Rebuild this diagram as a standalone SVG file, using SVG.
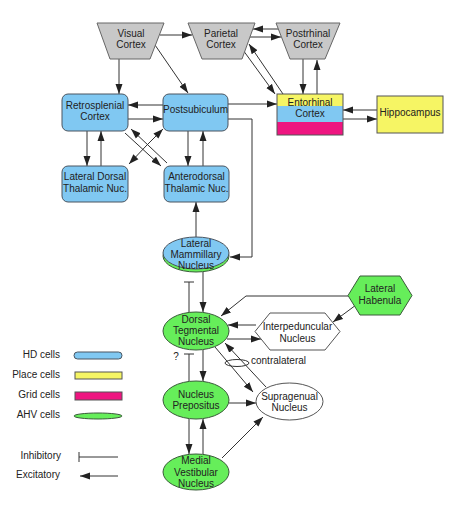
<svg xmlns="http://www.w3.org/2000/svg" width="463" height="511" viewBox="0 0 463 511">
<style>
text{font-family:"Liberation Sans",Arial,sans-serif;font-size:10px;fill:#222;text-anchor:middle}
.l{text-anchor:end}
.s{text-anchor:start}
.tr{fill:#c8c8c8;stroke:#666;stroke-width:1}
.hd{fill:#80c8f2;stroke:#4a5560;stroke-width:1}
.ahv{fill:#66ee5a;stroke:#3a5a3a;stroke-width:1}
.pl{fill:#f6f564;stroke:#555;stroke-width:1}
.gr{fill:#ee1580;stroke:#555;stroke-width:1}
.wh{fill:#fff;stroke:#555;stroke-width:1}
.c{fill:none;stroke:#333;stroke-width:1}
.a{marker-end:url(#ah)}
</style>
<defs>
<marker id="ah" markerUnits="userSpaceOnUse" markerWidth="11" markerHeight="8" refX="10" refY="4" orient="auto">
<path d="M0,0.5 L10,4 L0,7.5 z" fill="#222"/>
</marker>
</defs>

<g id="connectors">
<line class="c a" x1="160" y1="35" x2="192" y2="35"/>
<line class="c a" x1="278" y1="29" x2="253" y2="29"/>
<line class="c a" x1="250" y1="37" x2="281" y2="37"/>
<line class="c a" x1="119" y1="59" x2="119" y2="94"/>
<line class="c a" x1="155" y1="45" x2="188" y2="93"/>
<line class="c a" x1="243" y1="50" x2="275" y2="94"/>
<line class="c a" x1="283" y1="94" x2="249" y2="44"/>
<line class="c a" x1="303" y1="59" x2="303" y2="94"/>
<line class="c a" x1="317" y1="94" x2="317" y2="60"/>
<line class="c a" x1="377" y1="110" x2="343" y2="110"/>
<line class="c a" x1="343" y1="119" x2="377" y2="119"/>
<line class="c a" x1="228" y1="104" x2="277" y2="104"/>
<line class="c a" x1="163" y1="105" x2="128" y2="105"/>
<line class="c a" x1="128" y1="119" x2="163" y2="119"/>
<line class="c a" x1="87" y1="131" x2="87" y2="166"/>
<line class="c a" x1="101" y1="166" x2="101" y2="131"/>
<line class="c a" x1="188" y1="131" x2="188" y2="166"/>
<line class="c a" x1="203" y1="166" x2="203" y2="131"/>
<line class="c a" x1="146" y1="146" x2="129" y2="164"/>
<line class="c a" x1="146" y1="146" x2="163" y2="129"/>
<line class="c a" x1="125" y1="133" x2="161" y2="166"/>
<line class="c a" x1="167" y1="163" x2="131" y2="129"/>
<path class="c a" d="M228,119 H252 V257 H230"/>
<line class="c a" x1="196" y1="237" x2="196" y2="202"/>
<line class="c a" x1="203" y1="272" x2="203" y2="312"/>
<line class="c" x1="189" y1="313" x2="189" y2="282"/>
<line class="c" x1="184" y1="282" x2="194" y2="282"/>
<path class="c a" d="M348,296 H246 L221,316"/>
<line class="c a" x1="356" y1="305" x2="333" y2="322"/>
<line class="c a" x1="256" y1="325" x2="228" y2="325"/>
<line class="c a" x1="227" y1="339" x2="261" y2="339"/>
<line class="c a" x1="215" y1="347" x2="253" y2="392"/>
<line class="c a" x1="266" y1="387" x2="225" y2="343"/>
<line class="c a" x1="203" y1="350" x2="203" y2="381"/>
<line class="c" x1="189" y1="381" x2="189" y2="354"/>
<line class="c" x1="184" y1="354" x2="194" y2="354"/>
<line class="c a" x1="229" y1="403" x2="256" y2="403"/>
<line class="c a" x1="189" y1="419" x2="189" y2="454"/>
<line class="c a" x1="203" y1="454" x2="203" y2="419"/>
<line class="c a" x1="222" y1="458" x2="263" y2="417"/>
</g>

<g id="visual-cortex">
<polygon class="tr" points="97,23 164,23 150,59 110,59"/>
<text x="131" y="37">Visual</text>
<text x="131" y="48">Cortex</text>
</g>
<g id="parietal-cortex">
<polygon class="tr" points="188,23 255,23 242,59 202,59"/>
<text x="221" y="37">Parietal</text>
<text x="221" y="48">Cortex</text>
</g>
<g id="postrhinal-cortex">
<polygon class="tr" points="276,23 340,23 325,59 290,59"/>
<text x="308" y="37">Postrhinal</text>
<text x="308" y="48">Cortex</text>
</g>
<g id="entorhinal-cortex">
<rect x="277" y="94" width="66" height="12" fill="#f6f564"/>
<rect x="277" y="106" width="66" height="16" fill="#80c8f2"/>
<rect x="277" y="122" width="66" height="13" fill="#ee1580"/>
<rect x="277" y="94" width="66" height="41" fill="none" stroke="#555"/>
<text x="310" y="106">Entorhinal</text>
<text x="310" y="117">Cortex</text>
</g>
<g id="hippocampus">
<rect class="pl" x="377" y="96" width="66" height="37"/>
<text x="410" y="116">Hippocampus</text>
</g>
<g id="retrosplenial-cortex">
<rect class="hd" x="62" y="94" width="66" height="37" rx="6"/>
<text x="95" y="108.5">Retrosplenial</text>
<text x="95" y="120">Cortex</text>
</g>
<g id="postsubiculum">
<rect class="hd" x="163" y="94" width="65" height="37" rx="6"/>
<text x="195.5" y="113">Postsubiculum</text>
</g>
<g id="lateral-dorsal-thalamic">
<rect class="hd" x="62" y="166" width="66" height="36" rx="6"/>
<text x="95" y="180">Lateral Dorsal</text>
<text x="95" y="191.5">Thalamic Nuc.</text>
</g>
<g id="anterodorsal-thalamic">
<rect class="hd" x="164" y="166" width="65" height="36" rx="6"/>
<text x="196.5" y="180">Anterodorsal</text>
<text x="196.5" y="191.5">Thalamic Nuc.</text>
</g>
<g id="lateral-mammillary">
<ellipse class="ahv" cx="196" cy="256" rx="33" ry="16"/>
<ellipse class="hd" cx="196" cy="253" rx="33" ry="16"/>
<text x="196" y="246.5">Lateral</text>
<text x="196" y="257.5">Mammillary</text>
<text x="196" y="269">Nucleus</text>
</g>
<g id="dorsal-tegmental">
<ellipse class="ahv" cx="196" cy="331" rx="33" ry="19"/>
<text x="196" y="323">Dorsal</text>
<text x="196" y="334">Tegmental</text>
<text x="196" y="345">Nucleus</text>
</g>
<g id="lateral-habenula">
<polygon class="ahv" points="348,295.5 360,276 400,276 412,295.5 400,315 360,315"/>
<text x="380" y="292">Lateral</text>
<text x="380" y="304">Habenula</text>
</g>
<g id="interpeduncular">
<polygon class="wh" points="255,331.5 270,313 325,313 340,331.5 325,350 270,350"/>
<text x="297.5" y="330">Interpeduncular</text>
<text x="297.5" y="341.5">Nucleus</text>
</g>
<g id="contralateral">
<ellipse cx="237" cy="363" rx="12" ry="3.5" fill="none" stroke="#333"/>
<text class="s" x="251" y="364">contralateral</text>
</g>
<g id="question">
<text x="176" y="360">?</text>
</g>
<g id="nucleus-prepositus">
<ellipse class="ahv" cx="196" cy="400" rx="33" ry="19"/>
<text x="196" y="398">Nucleus</text>
<text x="196" y="409">Prepositus</text>
</g>
<g id="supragenual">
<ellipse class="wh" cx="289.5" cy="401.5" rx="33.5" ry="18.5"/>
<text x="289.5" y="400">Supragenual</text>
<text x="289.5" y="411">Nucleus</text>
</g>
<g id="medial-vestibular">
<ellipse class="ahv" cx="196" cy="472" rx="33" ry="18"/>
<text x="196" y="464">Medial</text>
<text x="196" y="475.5">Vestibular</text>
<text x="196" y="487">Nucleus</text>
</g>

<g id="legend">
<text class="l" x="60" y="358">HD cells</text>
<rect class="hd" x="74" y="352" width="48" height="7" rx="3.5"/>
<text class="l" x="60" y="378">Place cells</text>
<rect class="pl" x="75" y="372" width="47" height="7"/>
<text class="l" x="60" y="398">Grid cells</text>
<rect class="gr" x="75" y="392" width="47" height="8"/>
<text class="l" x="60" y="418">AHV cells</text>
<ellipse class="ahv" cx="98" cy="416" rx="24" ry="3"/>
<text class="l" x="61" y="459">Inhibitory</text>
<line class="c" x1="79" y1="457" x2="118" y2="457"/>
<line class="c" x1="79" y1="452" x2="79" y2="462"/>
<text class="l" x="60" y="478">Excitatory</text>
<line class="c a" x1="118" y1="476" x2="80" y2="476"/>
</g>
</svg>
